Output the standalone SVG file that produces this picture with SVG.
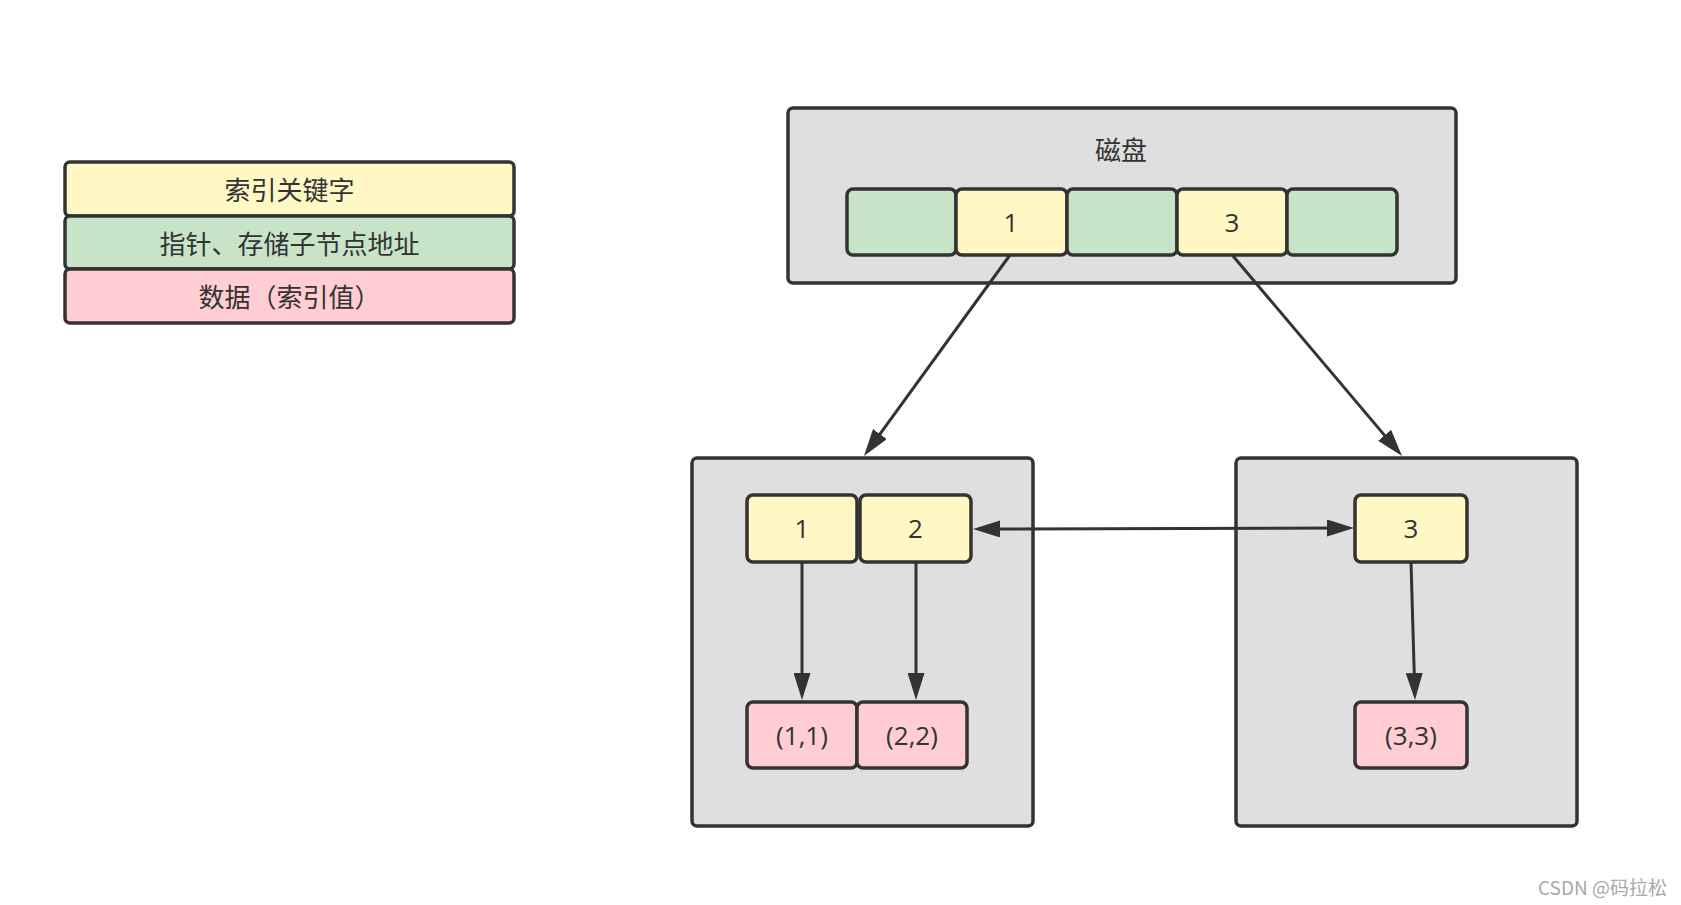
<svg xmlns="http://www.w3.org/2000/svg" width="1681" height="905" viewBox="0 0 1681 905">
<style>
.box{fill:#dfdfdf;stroke:#333;stroke-width:3.5}
.y{fill:#fff8c5;stroke:#333;stroke-width:3.5}
.g{fill:#c7e4c9;stroke:#333;stroke-width:3.5}
.p{fill:#ffcdd2;stroke:#333;stroke-width:3.5}
.t{font-family:"Noto Sans CJK SC","Open Sans",sans-serif;font-size:26px;fill:#333;text-anchor:middle;dominant-baseline:central}
.n{font-family:"Open Sans","Noto Sans CJK SC",sans-serif;font-size:26px;fill:#333;text-anchor:middle;dominant-baseline:central}
.c{fill:none;stroke:#333;stroke-width:3;marker-end:url(#ah)}
.wm{font-family:"Noto Sans CJK SC","Liberation Sans",sans-serif;font-size:19px;fill:#a8a8a8;text-anchor:end;dominant-baseline:central}
</style>
<defs>
<marker id="ah" markerUnits="userSpaceOnUse" markerWidth="27" markerHeight="17" refX="20" refY="8.5" orient="auto-start-reverse">
<path d="M0,0 L27,8.5 L0,17 z" fill="#333"/>
</marker>
</defs>
<rect width="1681" height="905" fill="#fff"/>
<g id="legend">
<rect class="y" x="65" y="162" width="449" height="54" rx="5"/>
<text class="t" x="289.5" y="188.5">索引关键字</text>
<rect class="g" x="65" y="216" width="449" height="53" rx="5"/>
<text class="t" x="289.5" y="242.5">指针、存储子节点地址</text>
<rect class="p" x="65" y="269" width="449" height="54" rx="5"/>
<text class="t" x="289.5" y="295">数据（索引值）</text>
</g>
<g id="disk">
<rect class="box" x="788" y="108" width="668" height="175" rx="5"/>
<text class="t" x="1121" y="148.5">磁盘</text>
<rect class="g" x="847" y="189" width="109" height="66" rx="6"/>
<rect class="y" x="956" y="189" width="111" height="66" rx="6"/>
<text class="n" x="1011" y="222">1</text>
<rect class="g" x="1067" y="189" width="110" height="66" rx="6"/>
<rect class="y" x="1177" y="189" width="110" height="66" rx="6"/>
<text class="n" x="1232" y="222">3</text>
<rect class="g" x="1287" y="189" width="110" height="66" rx="6"/>
</g>
<g id="left-node">
<rect class="box" x="692" y="458" width="341" height="368" rx="5"/>
<rect class="y" x="747" y="495" width="110" height="67" rx="6"/>
<text class="n" x="802" y="528">1</text>
<rect class="y" x="860" y="495" width="111" height="67" rx="6"/>
<text class="n" x="915.5" y="528">2</text>
<rect class="p" x="747" y="702" width="110" height="66" rx="6"/>
<text class="n" x="802" y="735">(1,1)</text>
<rect class="p" x="857" y="702" width="110" height="66" rx="6"/>
<text class="n" x="912" y="735">(2,2)</text>
</g>
<g id="right-node">
<rect class="box" x="1236" y="458" width="341" height="368" rx="5"/>
<rect class="y" x="1355" y="495" width="112" height="67" rx="6"/>
<text class="n" x="1411" y="528">3</text>
<rect class="p" x="1355" y="702" width="112" height="66" rx="6"/>
<text class="n" x="1411" y="735">(3,3)</text>
</g>
<g id="connectors">
<line class="c" x1="1010" y1="255" x2="868.1" y2="450.3"/>
<line class="c" x1="1233" y1="256" x2="1397.5" y2="450.6"/>
<line class="c" x1="980" y1="529" x2="1347" y2="528" style="marker-start:url(#ah)"/>
<line class="c" x1="802" y1="562" x2="802" y2="693"/>
<line class="c" x1="916" y1="562" x2="916" y2="693"/>
<line class="c" x1="1411" y1="562" x2="1414.8" y2="693"/>
</g>
<text class="wm" x="1667" y="886">CSDN @码拉松</text>
</svg>
